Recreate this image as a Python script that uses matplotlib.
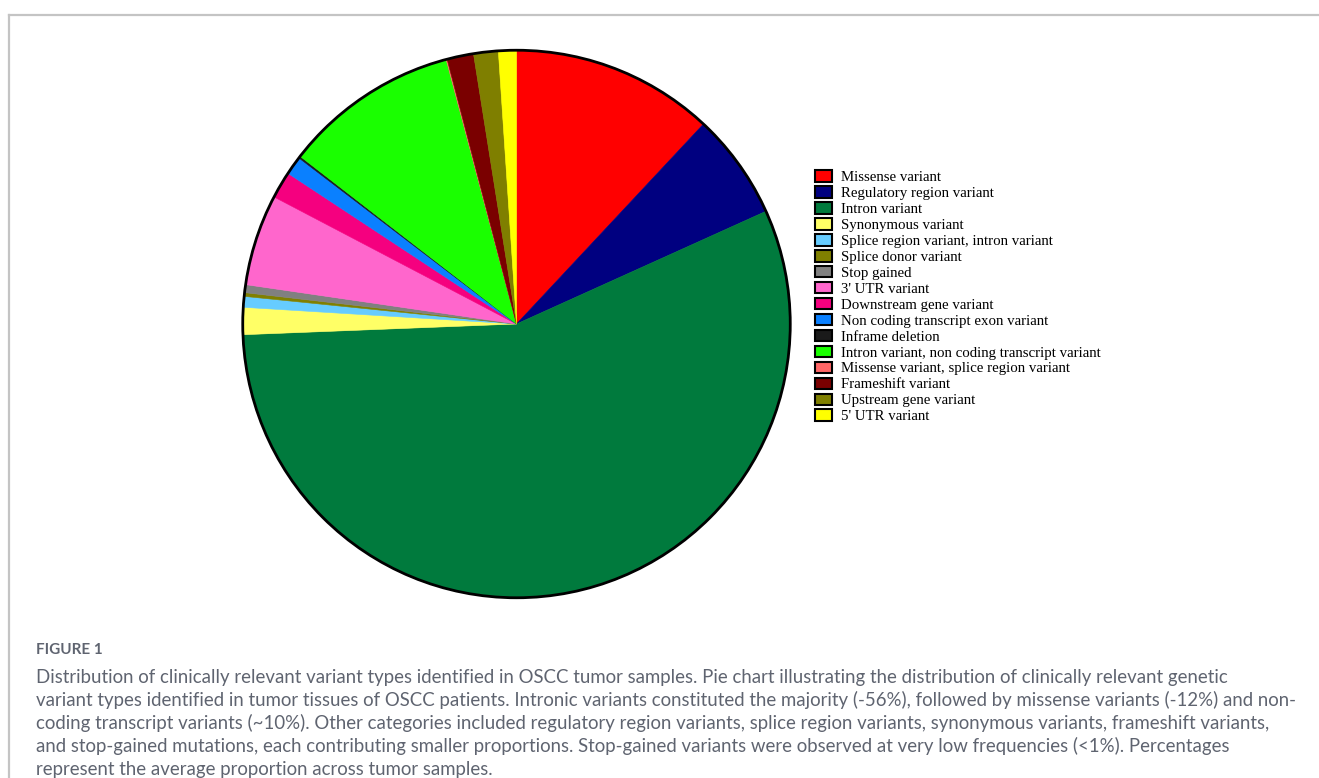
import matplotlib
matplotlib.use("Agg")
import matplotlib.pyplot as plt
from matplotlib.patches import Patch, Circle
from matplotlib.lines import Line2D

W, H = 1319, 778
DPI = 100

categories = [
    "Missense variant",
    "Regulatory region variant",
    "Intron variant",
    "Synonymous variant",
    "Splice region variant, intron variant",
    "Splice donor variant",
    "Stop gained",
    "3' UTR variant",
    "Downstream gene variant",
    "Non coding transcript exon variant",
    "Inframe deletion",
    "Intron variant, non coding transcript variant",
    "Missense variant, splice region variant",
    "Frameshift variant",
    "Upstream gene variant",
    "5' UTR variant",
]
percent = [12.0, 6.3, 56.3, 1.6, 0.64, 0.22, 0.47, 5.4, 1.6, 1.1, 0.12,
           10.4, 0.06, 1.57, 1.46, 1.06]
colors = ["#ff0000", "#000080", "#007a3d", "#ffff66", "#66ccff", "#808000",
          "#808080", "#ff66cc", "#f5007f", "#0a80ff", "#1a1a1a", "#1aff00",
          "#ff6666", "#7a0000", "#7f7f00", "#ffff00"]

caption_title = "FIGURE 1"
caption_lines = [
    "Distribution of clinically relevant variant types identified in OSCC tumor samples. Pie chart illustrating the distribution of clinically relevant genetic",
    "variant types identified in tumor tissues of OSCC patients. Intronic variants constituted the majority (-56%), followed by missense variants (-12%) and non-",
    "coding transcript variants (~10%). Other categories included regulatory region variants, splice region variants, synonymous variants, frameshift variants,",
    "and stop-gained mutations, each contributing smaller proportions. Stop-gained variants were observed at very low frequencies (<1%). Percentages",
    "represent the average proportion across tumor samples.",
]

fig = plt.figure(figsize=(W / DPI, H / DPI), dpi=DPI)
fig.patch.set_facecolor("white")

# pie axes in pixel geometry
cx, cy, r = 516.5, 324.0, 276.5
ax = fig.add_axes([(cx - r) / W, 1 - (cy + r) / H, 2 * r / W, 2 * r / H])
wedges, _ = ax.pie(percent, colors=colors, startangle=90, counterclock=False,
                   radius=1.0, wedgeprops=dict(linewidth=0))
for w, c in zip(wedges, colors):
    w.set_edgecolor(c)
    w.set_linewidth(0.4)
ax.add_patch(Circle((0, 0), 1.0, fill=False, edgecolor="black", linewidth=2.0))
ax.set_xlim(-1.01, 1.01)
ax.set_ylim(-1.01, 1.01)
ax.set_aspect("equal")
ax.axis("off")

# legend
handles = [Patch(facecolor=c, edgecolor="black", linewidth=1.5) for c in colors]
fig.legend(handles, categories, loc="upper left",
           bbox_to_anchor=(815 / W, 1 - 170.5 / H),
           frameon=False, prop=dict(family="Liberation Serif", size=10.7),
           handlelength=1.14, handleheight=0.8, handletextpad=0.6,
           labelspacing=0.14, borderpad=0, borderaxespad=0)

# border lines
fig.add_artist(Line2D([9 / W, 1.0], [1 - 14.5 / H, 1 - 14.5 / H],
                      transform=fig.transFigure, color="#c4c4c4", linewidth=1.6))
fig.add_artist(Line2D([9 / W, 9 / W], [1 - 14.5 / H, 0.0],
                      transform=fig.transFigure, color="#c4c4c4", linewidth=1.6))

# caption
cap_color = "#5f6470"
x0 = 36
fig.text(x0 / W, 1 - 650 / H, caption_title, fontsize=11, color=cap_color,
         family="Lato", fontweight="bold", va="center", ha="left")
y0, dy = 677.0, 23.0
for i, line in enumerate(caption_lines):
    fig.text(x0 / W, 1 - (y0 + i * dy) / H, line, fontsize=13.4, color=cap_color,
             family="Lato", va="center", ha="left")

fig.savefig("out.png", dpi=DPI, facecolor="white")
